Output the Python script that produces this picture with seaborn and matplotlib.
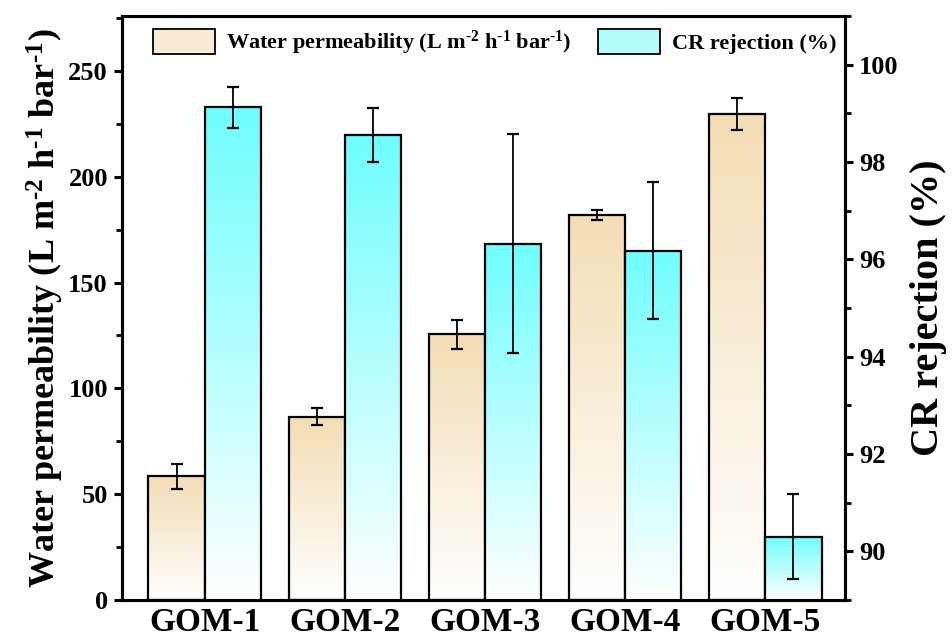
import numpy as np
import pandas as pd
import matplotlib
matplotlib.use("Agg")
import matplotlib.pyplot as plt
from matplotlib.colors import LinearSegmentedColormap
from matplotlib.patches import Rectangle
from matplotlib.ticker import MultipleLocator
import seaborn as sns

categories = ["GOM-1", "GOM-2", "GOM-3", "GOM-4", "GOM-5"]
water_perm = [58.5, 86.5, 125.5, 182.0, 229.5]
water_err = [6.0, 4.0, 7.0, 2.4, 7.5]
cr_rej = [99.12, 98.55, 96.32, 96.18, 90.3]
cr_err = [0.42, 0.55, 2.25, 1.4, 0.87]

s_water = r"Water permeability (L m$^{\text{-2}}$ h$^{\text{-1}}$ bar$^{\text{-1}}$)"
s_cr = "CR rejection (%)"

sns.set_theme(style="white")
plt.rcParams["font.family"] = ["Liberation Serif", "DejaVu Serif"]
plt.rcParams["font.weight"] = "bold"
plt.rcParams["mathtext.fontset"] = "custom"
plt.rcParams["mathtext.rm"] = "Liberation Serif:bold"
plt.rcParams["mathtext.it"] = "Liberation Serif:bold"
plt.rcParams["mathtext.bf"] = "Liberation Serif:bold"
for k in ("text.color", "axes.labelcolor", "xtick.color", "ytick.color", "axes.edgecolor"):
    plt.rcParams[k] = "black"

tan = "#F3DDB4"
cyan = "#6EFDFD"

df1 = pd.DataFrame({"cat": categories * 2,
                    "val": water_perm + [np.nan] * 5,
                    "series": [s_water] * 5 + [s_cr] * 5})
df2 = pd.DataFrame({"cat": categories * 2,
                    "val": [np.nan] * 5 + cr_rej,
                    "series": [s_water] * 5 + [s_cr] * 5})

fig = plt.figure(figsize=(9.52, 6.44), dpi=100)
ax1 = fig.add_axes([0.128, 0.0683, 0.760, 0.907])
ax2 = ax1.twinx()

order = [s_water, s_cr]
sns.barplot(data=df1, x="cat", y="val", hue="series", hue_order=order, order=categories,
            ax=ax1, errorbar=None, width=0.8, dodge=True, legend=False,
            palette=[tan, cyan], edgecolor="black", linewidth=1.6)
sns.barplot(data=df2, x="cat", y="val", hue="series", hue_order=order, order=categories,
            ax=ax2, errorbar=None, width=0.8, dodge=True, legend=False,
            palette=[tan, cyan], edgecolor="black", linewidth=1.6)


def grad_fill(ax, patches, color, base):
    cmap = LinearSegmentedColormap.from_list("g", ["white", color])
    grad = np.linspace(0, 1, 256).reshape(-1, 1)
    for p in patches:
        x0, y0 = p.get_x(), p.get_y()
        w, h = p.get_width(), p.get_height()
        im = ax.imshow(grad, cmap=cmap, origin="lower", aspect="auto",
                       extent=[x0, x0 + w, base, y0 + h], zorder=p.get_zorder() - 0.1,
                       interpolation="bilinear")
        im.set_clip_path(p)
        p.set_facecolor("none")


def valid(ax):
    return [p for p in ax.patches if isinstance(p, Rectangle)
            and np.isfinite(p.get_height()) and p.get_height() != 0]

p1 = sorted(valid(ax1), key=lambda p: p.get_x())
p2 = sorted(valid(ax2), key=lambda p: p.get_x())

grad_fill(ax1, p1, tan, 0)
grad_fill(ax2, p2, cyan, 89)

x1 = [p.get_x() + p.get_width() / 2 for p in p1]
x2 = [p.get_x() + p.get_width() / 2 for p in p2]
ax1.errorbar(x1, water_perm, yerr=water_err, fmt="none", ecolor="black",
             elinewidth=1.3, capsize=4.5, capthick=1.6, zorder=5)
ax2.errorbar(x2, cr_rej, yerr=cr_err, fmt="none", ecolor="black",
             elinewidth=1.3, capsize=4.5, capthick=1.6, zorder=5)

ax1.set_ylim(0, 276)
ax2.set_ylim(89, 101)
ax1.set_xlim(-0.59, 4.57)

ax1.yaxis.set_major_locator(MultipleLocator(50))
ax1.yaxis.set_minor_locator(MultipleLocator(25))
ax2.yaxis.set_major_locator(MultipleLocator(2))
ax2.yaxis.set_minor_locator(MultipleLocator(1))

for ax in (ax1, ax2):
    for sp in ax.spines.values():
        sp.set_linewidth(2.2)
        sp.set_color("black")
    ax.tick_params(axis="y", which="major", length=6, width=2.2, labelsize=19, pad=4)
    ax.tick_params(axis="y", which="minor", length=4, width=2.0)
    ax.set_xlabel("")
ax1.tick_params(axis="x", length=0, labelsize=24, pad=5)
ax1.tick_params(axis="y", which="both", left=True, right=False)
ax2.tick_params(axis="y", which="both", left=False, right=True)
for lab in ax1.get_xticklabels() + ax1.get_yticklabels() + ax2.get_yticklabels():
    lab.set_fontweight("bold")

ax1.set_ylabel(s_water, fontsize=26, fontweight="bold", labelpad=2)
ax2.set_ylabel(s_cr, fontsize=29, fontweight="bold", labelpad=8)

handles = [Rectangle((0, 0), 1, 1, facecolor="#F8ECD6", edgecolor="black", linewidth=1.3),
           Rectangle((0, 0), 1, 1, facecolor="#B5FDFD", edgecolor="black", linewidth=1.3)]
ax2.legend(handles, order, loc="upper center", ncol=2, frameon=False,
           prop={"family": "Liberation Serif", "weight": "bold", "size": 16},
           handlelength=2.8, handleheight=1.3, columnspacing=1.2, handletextpad=0.5,
           bbox_to_anchor=(0.515, 1.012))

fig.savefig("out.png", dpi=100)
